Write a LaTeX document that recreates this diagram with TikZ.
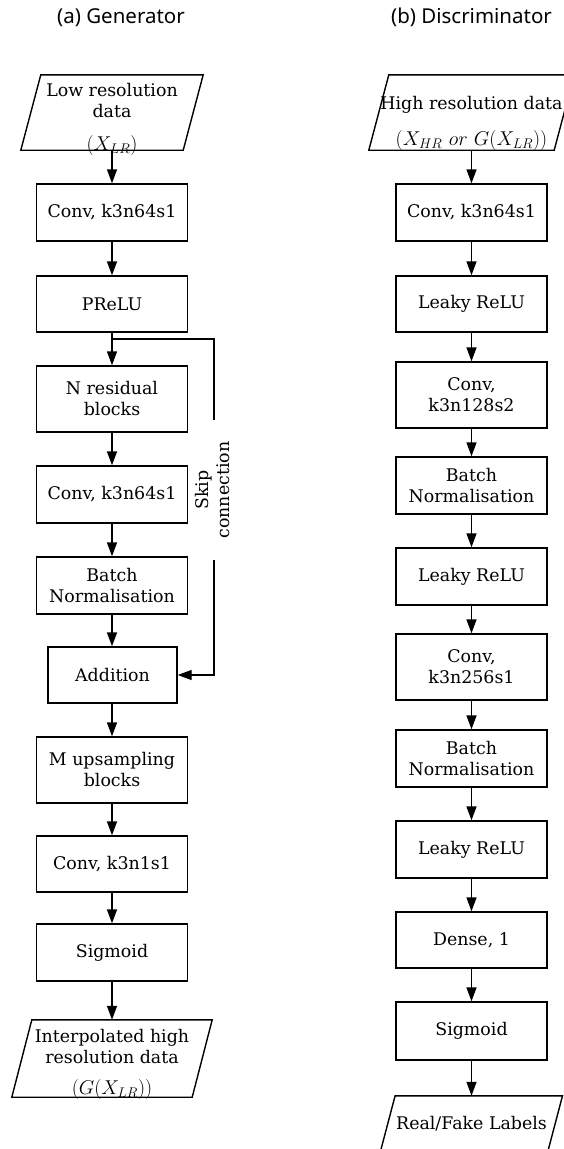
\RequirePackage{fix-cm}
\documentclass[tikz,border=0pt]{standalone}
\usepackage[no-math]{fontspec}
\setmainfont{DejaVu Serif}
\newfontfamily\titlefont{Noto Sans}
\usetikzlibrary{arrows.meta,calc}
\newcommand\drawparal[2]{\draw[par] ($(#1.north west)+(#2,0)$) -- ($(#1.north east)+(#2,0)$) -- ($(#1.south east)+(-#2,0)$) -- ($(#1.south west)+(-#2,0)$) -- cycle;}
\newcommand\bigmath[1]{{\fontsize{20}{21}\selectfont$#1$}}
\begin{document}
\begin{tikzpicture}[x=1pt,y=-1pt,
  every node/.style={font=\fontsize{17.4}{21}\selectfont},
  box/.style={draw, line width=1.4pt, minimum width=151pt, align=center, inner sep=0pt},
  io/.style={inner sep=0pt},
  iotext/.style={align=center, inner sep=0pt},
  arr/.style={line width=1.4pt, -{Triangle[length=14pt,width=10pt]}},
  ln/.style={line width=1.4pt},
  par/.style={line width=1.4pt, line join=miter},
  ttl/.style={anchor=base, font=\titlefont\fontsize{20.5}{24}\selectfont}]
\useasboundingbox (0,0) rectangle (563,1149);
% titles
\node[ttl] (ta) at (121,23) {(a) Generator};
\node[ttl] (tb) at (471.5,23) {(b) Discriminator};
% generator
\node[io, minimum width=162pt, minimum height=75pt] (gin) at (112,112.5) {};
\drawparal{gin}{10}
\node[iotext, yshift=-7pt] (gint) at (gin.center) {Low resolution\\data\\[12pt]\bigmath{(X_{LR})}};
\node[box, minimum height=57pt] (gc1) at (112,212.5) {Conv, k3n64s1};
\node[box, minimum height=56pt] (gpr) at (112,304) {PReLU};
\node[box, minimum height=66pt] (gnr) at (112,399) {N residual\\blocks};
\node[box, minimum height=57pt] (gc2) at (112,494.5) {Conv, k3n64s1};
\node[box, minimum height=57pt] (gbn) at (112,585.5) {Batch\\Normalisation};
\node[box, minimum height=56pt, minimum width=129pt] (gadd) at (112.5,675) {Addition};
\node[box, minimum height=66pt] (gup) at (112,770) {M upsampling\\blocks};
\node[box, minimum height=56pt] (gc3) at (112,864) {Conv, k3n1s1};
\node[box, minimum height=57pt] (gsg) at (112,952.5) {Sigmoid};
\node[io, minimum width=180pt, minimum height=77pt] (gout) at (112,1058.5) {};
\drawparal{gout}{10}
\node[iotext, yshift=-6pt] (goutt) at (gout.center) {Interpolated high\\resolution data\\[10pt]\bigmath{(G(X_{LR}))}};
\draw[arr] (gin) -- (gc1);
\draw[arr] (gc1) -- (gpr);
\draw[arr] (gpr) -- (gnr);
\draw[arr] (gnr) -- (gc2);
\draw[arr] (gc2) -- (gbn);
\draw[arr] (gbn) -- (gbn |- gadd.north);
\draw[arr] (gadd.south -| gup) -- (gup);
\draw[arr] (gup) -- (gc3);
\draw[arr] (gc3) -- (gsg);
\draw[arr] (gsg) -- (gout);
% skip connection
\coordinate (sk0) at (112,339);
\coordinate (sk1) at (214,339);
\coordinate (sk2) at (214,420);
\coordinate (sk3) at (214,560);
\draw[ln] (sk0) -- (sk1) -- (sk2);
\draw[arr] (sk3) |- (gadd.east);
\node[rotate=90, align=center] (skt) at (213,490) {Skip\\connection};
% discriminator
\node[io, minimum width=185pt, minimum height=75pt] (din) at (471.5,112.5) {};
\drawparal{din}{10}
\node[iotext, yshift=-11pt] (dint) at (din.center) {High resolution data\\[15pt]\bigmath{(X_{HR}\ or\ G(X_{LR}))}};
\node[box, minimum height=57pt] (d1) at (471.5,212.5) {Conv, k3n64s1};
\node[box, minimum height=56pt] (d2) at (471.5,304) {Leaky ReLU};
\node[box, minimum height=66pt] (d3) at (471.5,395) {Conv,\\k3n128s2};
\node[box, minimum height=57pt] (d4) at (471.5,485.5) {Batch\\Normalisation};
\node[box, minimum height=57pt] (d5) at (471.5,576.5) {Leaky ReLU};
\node[box, minimum height=66pt] (d6) at (471.5,667) {Conv,\\k3n256s1};
\node[box, minimum height=57pt] (d7) at (471.5,758.5) {Batch\\Normalisation};
\node[box, minimum height=57pt] (d8) at (471.5,849.5) {Leaky ReLU};
\node[box, minimum height=56pt] (d9) at (471.5,940) {Dense, 1};
\node[box, minimum height=58pt] (d10) at (471.5,1031) {Sigmoid};
\node[io, minimum width=167pt, minimum height=55pt] (dout) at (471.5,1123.5) {};
\drawparal{dout}{7.3}
\node[iotext] (doutt) at (dout.center) {Real/Fake Labels};
\draw[arr] (din) -- (d1);
\draw[arr] (d1) -- (d2);
\draw[arr] (d2) -- (d3);
\draw[arr] (d3) -- (d4);
\draw[arr] (d4) -- (d5);
\draw[arr] (d5) -- (d6);
\draw[arr] (d6) -- (d7);
\draw[arr] (d7) -- (d8);
\draw[arr] (d8) -- (d9);
\draw[arr] (d9) -- (d10);
\draw[arr] (d10) -- (dout);
\end{tikzpicture}
\end{document}
